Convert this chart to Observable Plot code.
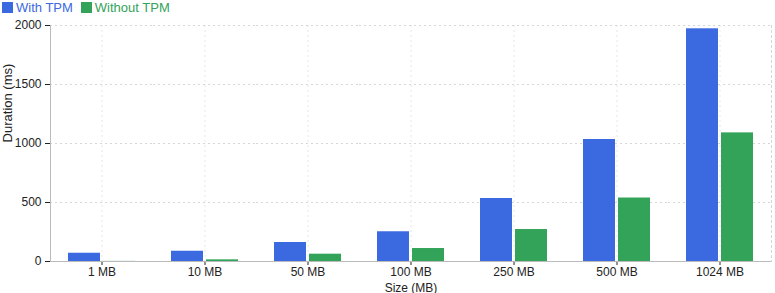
<!DOCTYPE html>
<html><head><meta charset="utf-8">
<script src="https://cdn.jsdelivr.net/npm/d3@7"></script>
<script src="https://cdn.jsdelivr.net/npm/@observablehq/plot@0.6"></script>
<style>
body{margin:0;background:#fff;font-family:"Liberation Sans",Arial,sans-serif;position:relative;}
#legend{height:15px;font-size:13px;line-height:15px;display:flex;gap:8px;padding-left:2px;align-items:center;}
#legend span{display:inline-flex;align-items:center;gap:3px;}
#legend i{display:inline-block;width:11px;height:11px;}
#ylabel{position:absolute;left:7px;top:103px;transform:translate(-50%,-50%) rotate(-90deg);font-size:13px;color:#222;white-space:nowrap;line-height:13px;}
svg g[aria-label="fx-grid"] line{stroke-dasharray:2 3;}
</style></head><body>
<div id="legend"></div>
<div id="chart"></div>
<div id="ylabel">Duration (ms)</div>
<script>
const sizes = ["1 MB","10 MB","50 MB","100 MB","250 MB","500 MB","1024 MB"];
const series = ["With TPM","Without TPM"];
const withTPM = [70, 87, 161, 252, 534, 1034, 1972];
const withoutTPM = [1, 14, 62, 110, 271, 538, 1090];
const yTicks = [0, 500, 1000, 1500, 2000];
const colors = ["#3b69e0", "#33a35a"];

const data = [];
sizes.forEach((s, i) => {
  data.push({size: s, series: series[0], value: withTPM[i]});
  data.push({size: s, series: series[1], value: withoutTPM[i]});
});

const legend = document.getElementById("legend");
series.forEach((s, i) => {
  const sp = document.createElement("span");
  sp.style.color = colors[i];
  sp.innerHTML = `<i style="background:${colors[i]}"></i>${s}`;
  legend.appendChild(sp);
});

const chart = Plot.plot({
  width: 775, height: 278,
  marginTop: 10, marginLeft: 49, marginRight: 3, marginBottom: 32,
  style: {fontFamily: '"Liberation Sans",Arial,sans-serif', fontSize: "12px", color: "#222"},
  fx: {domain: sizes, padding: 0, label: "Size (MB)", labelAnchor: "center", labelArrow: "none", labelOffset: 30, grid: true, tickSize: 4, tickPadding: 2},
  x: {domain: series, axis: null, paddingInner: 0.1, paddingOuter: 0.5},
  y: {domain: [0, 2000], ticks: yTicks, tickFormat: d3.format("d"), grid: false, label: null, tickSize: 5},
  color: {domain: series, range: colors},
  marks: [
    Plot.gridY(yTicks, {stroke: "#bbb", strokeOpacity: 0.6, strokeDasharray: "2,3"}),
    Plot.barY(data, {fx: "size", x: "series", y: "value", fill: "series"}),
    Plot.frame({anchor: "right", stroke: "#bbb", strokeOpacity: 0.6, strokeDasharray: "2,3", facet: "super"}),
    Plot.frame({anchor: "left", stroke: "#bbb", facet: "super"}),
    Plot.ruleY([0], {stroke: "#bbb"})
  ]
});
document.getElementById("chart").appendChild(chart);
</script>
</body></html>
